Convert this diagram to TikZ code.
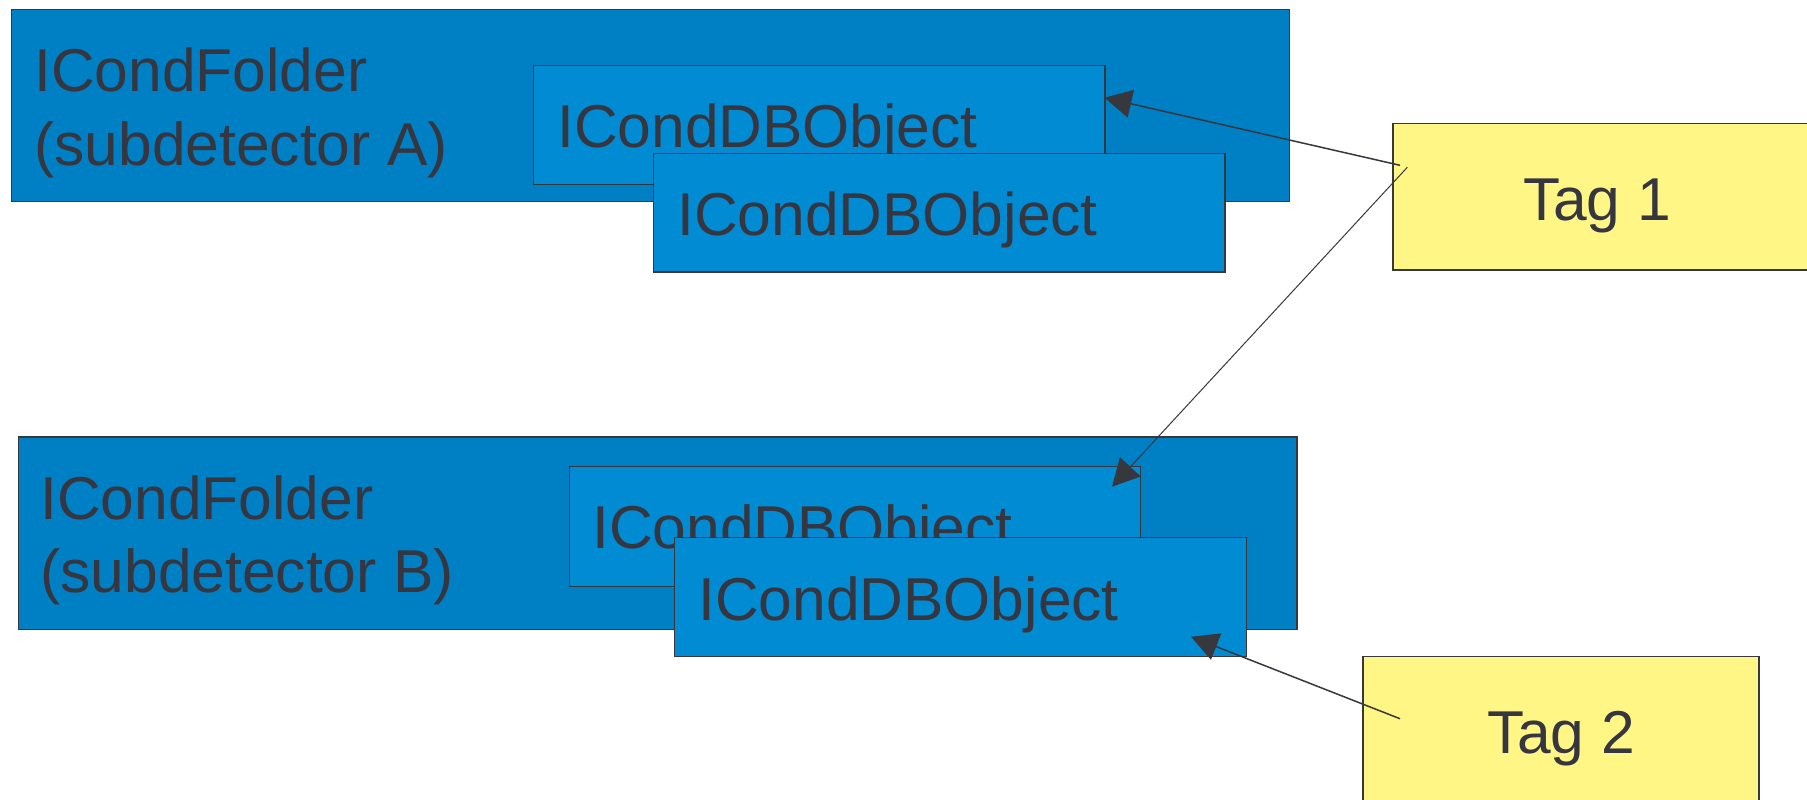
\documentclass[tikz,border=0pt]{standalone}
\usepackage{fontspec}
\setmainfont{Liberation Sans}
\usetikzlibrary{fit,arrows.meta}
\definecolor{folderblue}{RGB}{0,128,196}
\definecolor{objblue}{RGB}{0,139,210}
\definecolor{tagyellow}{RGB}{255,246,133}
\definecolor{edgegray}{RGB}{55,55,62}
\definecolor{txtgray}{RGB}{53,54,63}
\tikzset{
  folderbox/.style={draw=edgegray, line width=0.7pt, fill=folderblue, inner sep=0pt},
  objbox/.style={draw=edgegray, line width=0.7pt, fill=objblue, inner sep=0pt},
  tagbox/.style={draw=edgegray, line width=0.7pt, fill=tagyellow, inner sep=0pt},
  lbl/.style={text=txtgray, font=\fontsize{30.25}{36}\selectfont, inner sep=0pt, anchor=base west},
  tlbl/.style={text=txtgray, font=\fontsize{30.25}{36}\selectfont, inner sep=0pt, anchor=base},
  conn/.style={draw=edgegray, line width=0.75pt, -{Triangle[length=13.5pt,width=14pt]}},
}
\begin{document}
\begin{tikzpicture}[x=0.5pt,y=-0.5pt]
\useasboundingbox (0,0) rectangle (1807,799);
\clip (0,0) rectangle (1807,799);
% Folder A
\node[folderbox, fit={(11.5,9.2) (1289.5,201.7)}] (fA) {};
\node[lbl] (fAt1) at (34,91.7) {ICondFolder};
\node[lbl] (fAt2) at (34,165) {(subdetector A)};
\node[objbox, fit={(533.6,65.7) (1105,184.4)}] (a1) {};
\node[lbl] (a1t) at (557,147.5) {ICondDBObject};
\node[objbox, fit={(653.4,153.3) (1225,272)}] (a2) {};
\node[lbl] (a2t) at (677,235) {ICondDBObject};
% Folder B
\node[folderbox, fit={(18.4,436.8) (1297,629.3)}] (fB) {};
\node[lbl] (fBt1) at (40,519.3) {ICondFolder};
\node[lbl] (fBt2) at (40,592.6) {(subdetector B)};
\node[objbox, fit={(569.4,466.7) (1140.3,586.7)}] (b1) {};
\node[lbl] (b1t) at (592,548.3) {ICondDBObject};
\node[objbox, fit={(674.5,537.3) (1246.4,656.7)}] (b2) {};
\node[lbl] (b2t) at (698,620) {ICondDBObject};
% Tags
\node[tagbox, fit={(1393,123.3) (1830,270)}] (t1) {};
\node[tlbl] (t1t) at (1597,220) {Tag 1};
\node[tagbox, fit={(1363,656.7) (1759,830)}] (t2) {};
\node[tlbl] (t2t) at (1561,753) {Tag 2};
% connector end points
\coordinate (t1a) at (1400,165.3);
\coordinate (t1b) at (1407.3,167.3);
\coordinate (t2a) at (1400,718.7);
\coordinate (a1tip) at (1104.5,97.7);
\coordinate (b1tip) at (1112,486.7);
\coordinate (b2tip) at (1191,636.7);
\draw[conn] (t1a) -- (a1tip);
\draw[conn, line width=0.5pt] (t1b) -- (b1tip);
\draw[conn] (t2a) -- (b2tip);
\end{tikzpicture}
\end{document}
